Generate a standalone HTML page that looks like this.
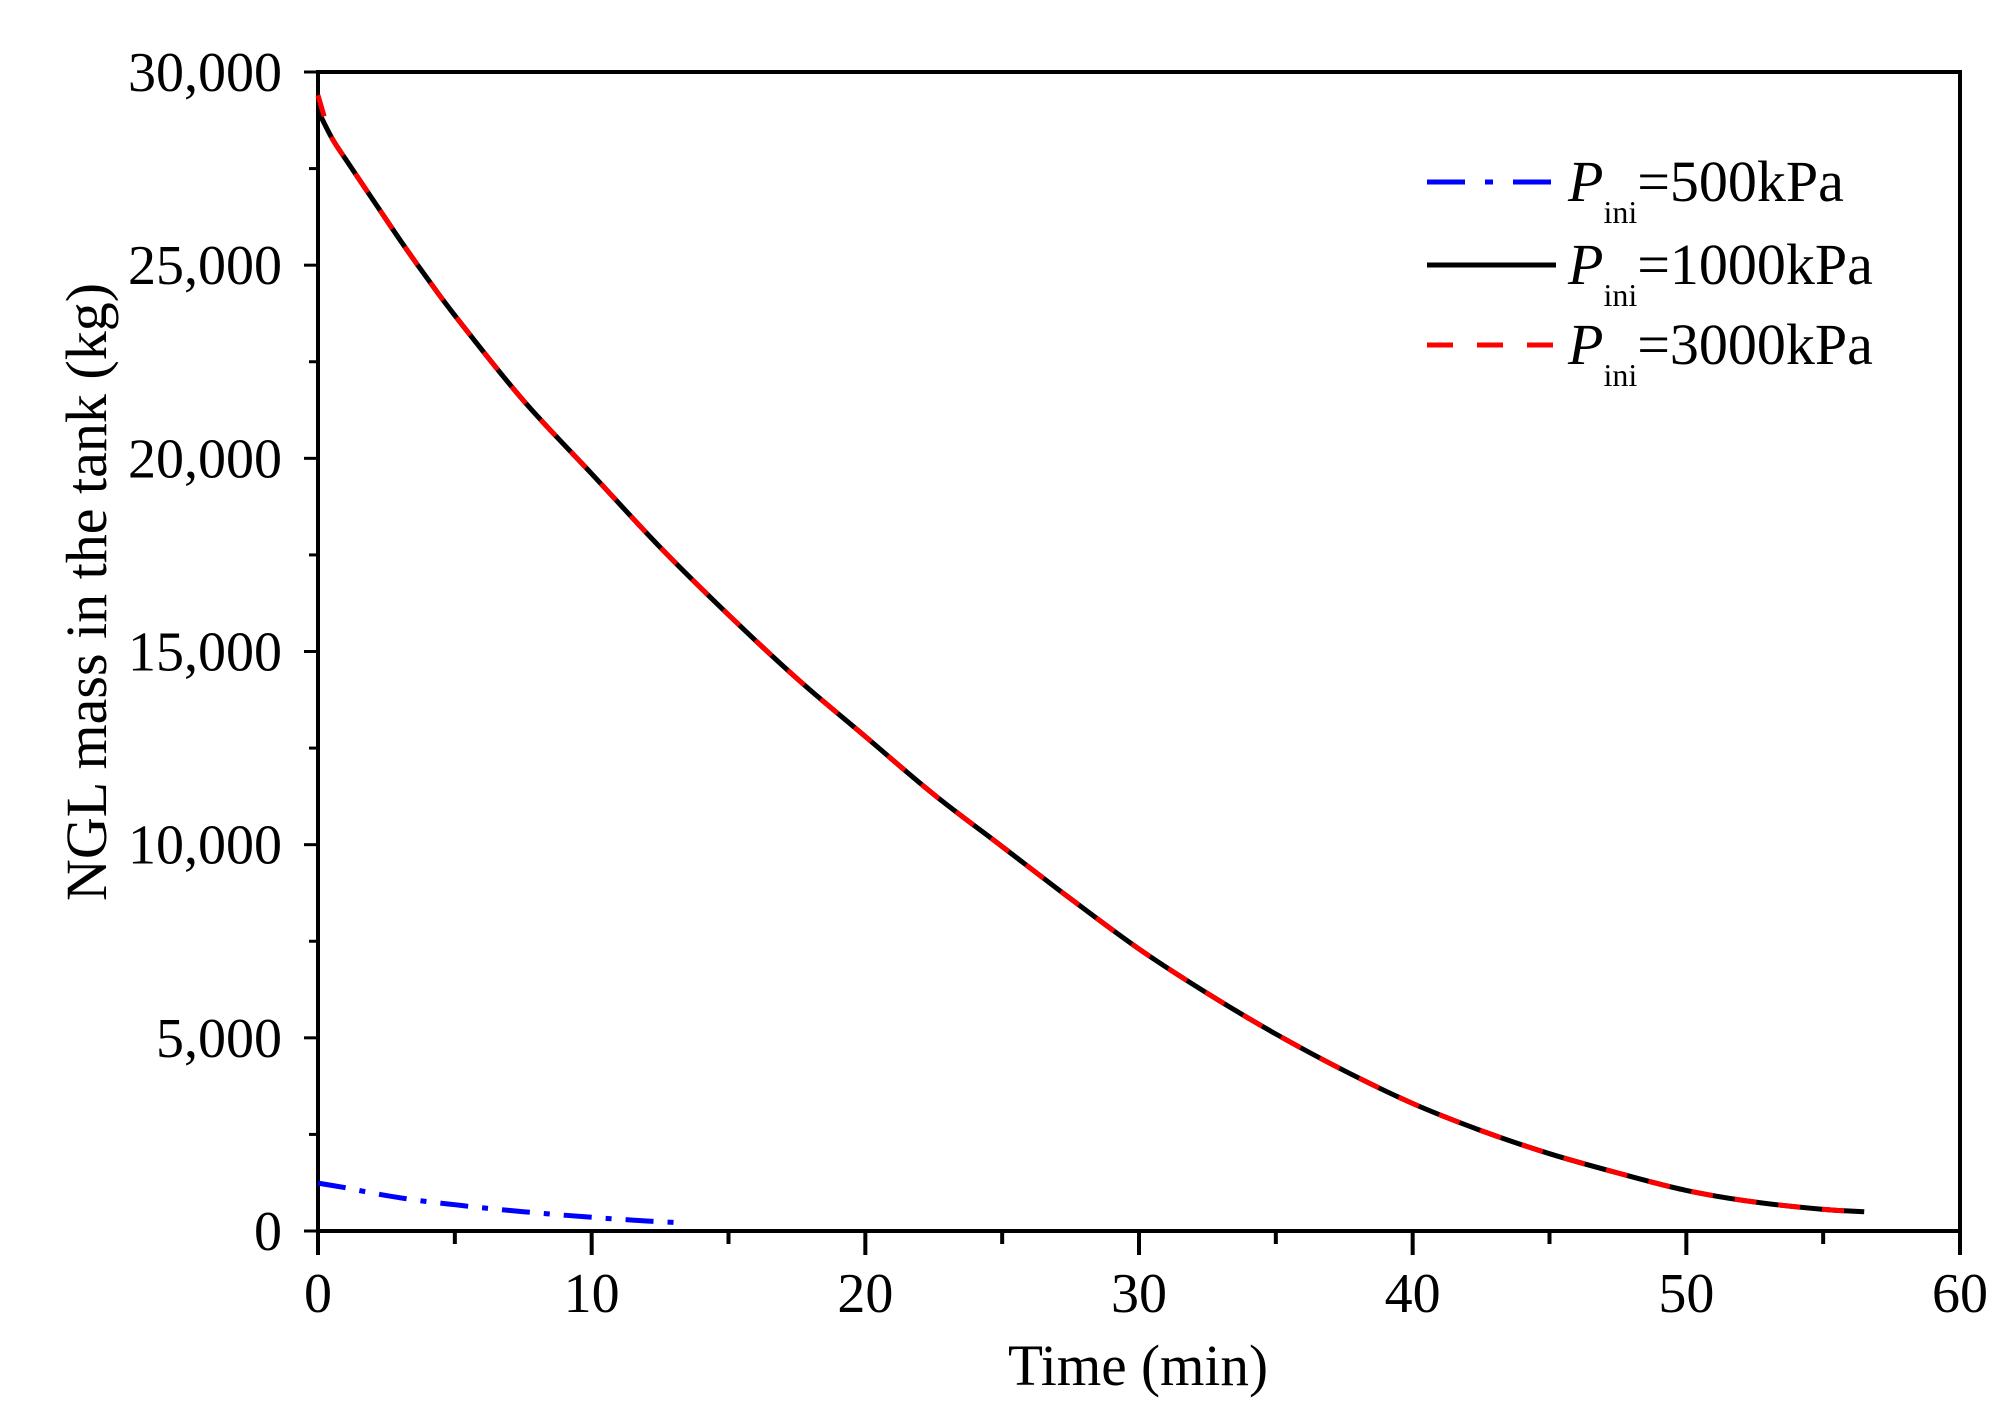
<!DOCTYPE html>
<html><head><meta charset="utf-8"><style>
html,body{margin:0;padding:0;background:#fff;}
svg{display:block;font-family:"Liberation Serif",serif;}
</style></head><body>
<svg id="chart" width="2008" height="1415" viewBox="0 0 2008 1415">
<g id="plot"></g>
</svg>
<script>
const tBlack=[0,0.5,1,2,3,4,5,7.5,10,12.5,15,17.5,20,22.5,25,27.5,30,32.5,35,37.5,40,42.5,45,47.5,50,52.5,55,56.5];
const mBlack=[29000,28300,27750,26700,25650,24650,23700,21500,19600,17700,15950,14300,12800,11300,9950,8600,7300,6150,5100,4150,3300,2600,2000,1500,1050,750,560,500];
const tRed=[0,0.25,0.5,1,2,3,4,5,7.5,10,12.5,15,17.5,20,22.5,25,27.5,30,32.5,35,37.5,40,42.5,45,47.5,50,52.5,55,56.5];
const mRed=[29400,28800,28300,27750,26700,25650,24650,23700,21500,19600,17700,15950,14300,12800,11300,9950,8600,7300,6150,5100,4150,3300,2600,2000,1500,1050,750,560,500];
const tBlue=[0,1,2,3,4,5,6,7.5,9,10.5,12,13.4];
const mBlue=[1240,1120,980,860,760,680,600,500,410,330,260,210];
const xTicks=[0,10,20,30,40,50,60];
const yTicks=[0,5000,10000,15000,20000,25000,30000];
const yTickLabels=["0","5,000","10,000","15,000","20,000","25,000","30,000"];

const X0=318,X1=1960,Y0=1231,Y1=72;
const sx=t=>X0+(t/60)*(X1-X0);
const sy=v=>Y0-(v/30000)*(Y0-Y1);
const NS="http://www.w3.org/2000/svg";
const g=document.getElementById('plot');
function mk(tag,attrs){const e=document.createElementNS(NS,tag);for(const k in attrs)e.setAttribute(k,attrs[k]);g.appendChild(e);return e;}

const frame=mk('rect',{x:X0,y:Y1,width:X1-X0,height:Y0-Y1,fill:'none',stroke:'#000','stroke-width':4});



for(let t=0;t<=60;t+=5){
  const major=t%10===0;
  const l=mk('line',{x1:sx(t),x2:sx(t),y1:Y0,y2:Y0+(major?24:13),stroke:'#000','stroke-width':4});
  
  
}
xTicks.forEach(t=>{
  const tx=mk('text',{x:sx(t),y:1312,'font-size':56,'text-anchor':'middle'});
  tx.textContent=t;
  
  
});
for(let v=0;v<=30000;v+=2500){
  const major=v%5000===0;
  const l=mk('line',{x1:X0,x2:X0-(major?14:9),y1:sy(v),y2:sy(v),stroke:'#000','stroke-width':3});
  
  
}
yTicks.forEach((v,i)=>{
  const tx=mk('text',{x:282,y:sy(v)+19,'font-size':56,'text-anchor':'end'});
  tx.textContent=yTickLabels[i];
  
  
});
const xt=mk('text',{x:1138,y:1385,'font-size':58,'text-anchor':'middle',textLength:260,lengthAdjust:'spacingAndGlyphs'});
xt.textContent='Time (min)';


const yt=mk('text',{x:0,y:0,'font-size':58,'text-anchor':'middle',transform:'translate(106,592) rotate(-90)'});
yt.textContent='NGL mass in the tank (kg)';



function smooth(ts,ms){
  const p=ts.map((t,i)=>[sx(t),sy(ms[i])]);
  let d='M'+p[0][0].toFixed(1)+','+p[0][1].toFixed(1);
  for(let i=0;i<p.length-1;i++){
    const a=p[Math.max(0,i-1)],b=p[i],c=p[i+1],e=p[Math.min(p.length-1,i+2)];
    const c1=[b[0]+(c[0]-a[0])/6,b[1]+(c[1]-a[1])/6];
    const c2=[c[0]-(e[0]-b[0])/6,c[1]-(e[1]-b[1])/6];
    d+=' C'+c1.map(v=>v.toFixed(1)).join(',')+' '+c2.map(v=>v.toFixed(1)).join(',')+' '+c[0].toFixed(1)+','+c[1].toFixed(1);
  }
  return d;
}
const lb=mk('path',{d:smooth(tBlack,mBlack),fill:'none',stroke:'#000','stroke-width':5});


const lr=mk('path',{d:smooth(tRed,mRed),fill:'none',stroke:'#f00','stroke-width':5,'stroke-dasharray':'22 22'});


const lu=mk('path',{d:smooth(tBlue,mBlue),fill:'none',stroke:'#00f','stroke-width':5,'stroke-dasharray':'28 14 6 14'});



const leg=[{y:182,c:'#00f',d:'38 20 8 20',v:'500kPa',n:'legend-entry-500'},
           {y:265,c:'#000',d:'',v:'1000kPa',n:'legend-entry-1000'},
           {y:345,c:'#f00',d:'26 24',v:'3000kPa',n:'legend-entry-3000'}];
leg.forEach(e=>{
  const l=mk('line',{x1:1427,x2:1556,y1:e.y,y2:e.y,stroke:e.c,'stroke-width':5});
  if(e.d)l.setAttribute('stroke-dasharray',e.d);
  
  
  const tx=mk('text',{x:1568,y:e.y+19,'font-size':58});
  tx.innerHTML='<tspan font-style="italic">P</tspan><tspan font-size="32" dy="22">ini</tspan><tspan dy="-22">='+e.v+'</tspan>';
  
  
});
</script>
</body></html>
